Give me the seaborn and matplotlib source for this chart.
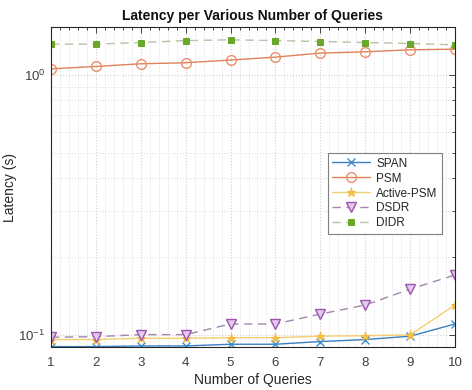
import numpy as np
import pandas as pd
import matplotlib
matplotlib.use("Agg")
import matplotlib.pyplot as plt
import seaborn as sns
from matplotlib.ticker import LogLocator, MultipleLocator, NullFormatter

# values
queries = [1, 2, 3, 4, 5, 6, 7, 8, 9, 10]
span = [0.0902, 0.0902, 0.0907, 0.0907, 0.0921, 0.0921, 0.0943, 0.0960, 0.0989, 0.1102]
psm = [1.054, 1.076, 1.102, 1.112, 1.139, 1.169, 1.211, 1.225, 1.247, 1.254]
active_psm = [0.0960, 0.0960, 0.0971, 0.0971, 0.0976, 0.0976, 0.0989, 0.0994, 0.1000, 0.1303]
dsdr = [0.0980, 0.0985, 0.1003, 0.1003, 0.1102, 0.1102, 0.1203, 0.1303, 0.1500, 0.1700]
didr = [1.311, 1.311, 1.330, 1.353, 1.362, 1.353, 1.342, 1.330, 1.318, 1.303]

df = pd.DataFrame({"Queries": queries, "SPAN": span, "PSM": psm,
                   "Active-PSM": active_psm, "DSDR": dsdr, "DIDR": didr})

sns.set_theme(style="white")
plt.rcParams['font.family'] = ['Liberation Sans', 'DejaVu Sans']

fig = plt.figure(figsize=(4.72, 3.9), dpi=100)
ax = fig.add_axes([0.108, 0.110, 0.856, 0.821])

# grid lines under the data
ax.set_yscale('log')
ax.set_xlim(1, 10)
ax.set_ylim(0.0898, 1.527)
ax.xaxis.set_major_locator(MultipleLocator(1))
ax.xaxis.set_minor_locator(MultipleLocator(0.2))
ax.yaxis.set_major_locator(LogLocator(base=10))
ax.yaxis.set_minor_locator(LogLocator(base=10, subs=np.arange(2, 10)))
ax.yaxis.set_minor_formatter(NullFormatter())
ax.grid(True, which='major', color='#cfcfcf', linestyle=':', linewidth=0.8)
ax.grid(True, which='minor', color='#dedede', linestyle=':', linewidth=0.7)
ax.set_axisbelow(True)

sns.lineplot(data=df, x="Queries", y="SPAN", ax=ax, color='#3a7fc0', linewidth=1.0,
             marker='x', markersize=5.5, markeredgecolor='#3a8fd0', markeredgewidth=1.0,
             label='SPAN')
sns.lineplot(data=df, x="Queries", y="PSM", ax=ax, color='#e0825a', linewidth=1.0,
             marker='o', markersize=7, markerfacecolor='none', markeredgecolor='#ea8e6c',
             markeredgewidth=1.0, label='PSM')
sns.lineplot(data=df, x="Queries", y="Active-PSM", ax=ax, color='#f2cf70', linewidth=1.0,
             marker='*', markersize=6.5, markerfacecolor='#f5c542', markeredgecolor='#f2b53a',
             markeredgewidth=0.6, label='Active-PSM')
sns.lineplot(data=df, x="Queries", y="DSDR", ax=ax, color='#a386ad', linewidth=1.0,
             linestyle=(0, (6, 4)), marker='v', markersize=6.5, markerfacecolor='#e3c9ee',
             markeredgecolor='#9b55ad', markeredgewidth=1.0, label='DSDR')
sns.lineplot(data=df, x="Queries", y="DIDR", ax=ax, color='#b7c2a8', linewidth=1.0,
             linestyle=(0, (6, 4)), marker='s', markersize=5, markerfacecolor='#6aa82a',
             markeredgecolor='#6aa82a', label='DIDR')

ax.set_title('Latency per Various Number of Queries', fontsize=10, fontweight='bold',
             color='#111111', pad=5)
ax.set_xlabel('Number of Queries', fontsize=10, color='#262626', labelpad=3)
ax.set_ylabel('Latency (s)', fontsize=10, color='#262626')
ax.yaxis.set_label_coords(-0.085, 0.5)

for s in ax.spines.values():
    s.set_color('#262626')
    s.set_linewidth(0.8)
ax.tick_params(which='both', direction='in', top=True, right=True, colors='#262626',
               labelsize=9.5, width=0.6)
ax.tick_params(which='major', length=4)
ax.tick_params(which='minor', length=2)
ax.tick_params(axis='x', which='major', pad=7)
ax.tick_params(axis='y', which='major', pad=4)
for lab in ax.get_xticklabels() + ax.get_yticklabels():
    lab.set_color('#404040')

leg = ax.legend(loc='upper right', bbox_to_anchor=(0.983, 0.625), fontsize=8.5,
                frameon=True, fancybox=False, edgecolor='#7f7f7f', framealpha=1,
                handlelength=3.2, handletextpad=0.5, borderpad=0.4, labelspacing=0.25)
leg.get_frame().set_linewidth(0.8)

fig.savefig('out.png', dpi=100)
